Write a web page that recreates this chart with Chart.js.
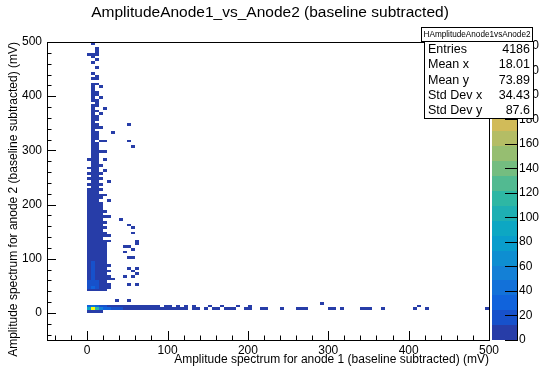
<!DOCTYPE html>
<html>
<head>
<meta charset="utf-8">
<script src="https://cdn.jsdelivr.net/npm/chart.js@4/dist/chart.umd.min.js"></script>
<style>
  html, body { margin: 0; padding: 0; background: #fff; }
  canvas { display: block; }
</style>
</head>
<body>
<canvas id="c" width="540" height="367"></canvas>
<script>
const FONT = "'Liberation Sans', Arial, Helvetica, sans-serif";

// histogram definition (ROOT TH2, 5 mV bins on both axes)
const histTitle = 'AmplitudeAnode1_vs_Anode2 (baseline subtracted)';
const histName = 'HAmplitudeAnode1vsAnode2';
const xTitle = 'Amplitude spectrum for anode 1 (baseline subtracted) (mV)';
const yTitle = 'Amplitude spectrum for anode 2 (baseline subtracted) (mV)';
const xMin = -50, xMax = 500, yMin = -50, yMax = 500;
const binW = 5;

const xMajor = [0, 100, 200, 300, 400, 500];
const yMajor = [0, 100, 200, 300, 400, 500];
const zLabels = [0, 20, 40, 60, 80, 100, 120, 140, 160, 180, 200, 220, 240];

const statsLabels = ['Entries', 'Mean x', 'Mean y', 'Std Dev x', 'Std Dev y'];
const statsValues = ['4186', '18.01', '73.89', '34.43', '87.6'];

// vertical column near anode1 ~ 0: x bin lower edges, y bin lower edges, counts
const colX = [0, 5, 10, 15, 20, 25];
const colY = [495, 490, 485, 480, 475, 470, 465, 460, 455, 450, 445, 440, 435, 430, 425, 420,
  415, 410, 405, 400, 395, 390, 385, 380, 375, 370, 365, 360, 355, 350, 345, 340, 335, 330,
  325, 320, 315, 310, 305, 300, 295, 290, 285, 280, 275, 270, 265, 260, 255, 250, 245, 240,
  235, 230, 225, 220, 215, 210, 205, 200, 195, 190, 185, 180, 175, 170, 165, 160, 155, 150,
  145, 140, 135, 130, 125, 120, 115, 110, 105, 100, 95, 90, 85, 80, 75, 70, 65, 60, 55, 50, 45, 40];
const colCounts = [
  [0, 1, 0, 0, 0, 0], [0, 0, 0, 0, 0, 0], [0, 0, 1, 0, 0, 0], [0, 0, 1, 0, 0, 0],
  [1, 1, 1, 0, 0, 0], [0, 1, 0, 0, 0, 0], [0, 0, 1, 0, 0, 0], [0, 1, 0, 0, 0, 0],
  [0, 0, 0, 0, 0, 0], [0, 0, 1, 0, 0, 0], [0, 0, 0, 0, 0, 0], [0, 1, 0, 0, 0, 0],
  [0, 0, 1, 0, 0, 0], [0, 1, 1, 0, 0, 0], [0, 0, 0, 0, 0, 0], [0, 1, 1, 0, 0, 0],
  [0, 1, 0, 1, 0, 0], [0, 1, 0, 0, 0, 0], [0, 1, 1, 0, 0, 0], [0, 1, 1, 0, 0, 0],
  [0, 1, 0, 1, 0, 0], [0, 1, 1, 0, 0, 0], [0, 0, 1, 0, 0, 0], [0, 1, 1, 0, 0, 0],
  [0, 1, 0, 0, 1, 0], [0, 1, 1, 0, 0, 0], [0, 1, 0, 1, 0, 0], [0, 1, 1, 0, 0, 0],
  [0, 1, 1, 0, 0, 0], [0, 1, 0, 0, 0, 0], [0, 1, 1, 0, 0, 0], [0, 1, 1, 1, 0, 0],
  [0, 1, 0, 0, 0, 0], [0, 2, 1, 0, 0, 0], [0, 1, 1, 0, 0, 0], [0, 1, 1, 0, 0, 0],
  [0, 1, 0, 1, 0, 0], [0, 2, 1, 0, 0, 0], [0, 1, 1, 0, 0, 0], [0, 2, 1, 0, 0, 0],
  [0, 1, 1, 1, 0, 0], [0, 2, 1, 0, 0, 0], [0, 1, 2, 0, 0, 0], [1, 2, 1, 0, 0, 0],
  [0, 2, 1, 0, 0, 0], [0, 1, 2, 1, 0, 0], [1, 2, 1, 0, 0, 0], [0, 2, 1, 0, 0, 0],
  [1, 2, 2, 1, 0, 0], [0, 2, 1, 0, 0, 0], [1, 2, 2, 1, 0, 0], [0, 2, 1, 0, 0, 0],
  [1, 3, 2, 1, 0, 0], [0, 2, 2, 0, 0, 0], [1, 3, 2, 1, 0, 0], [1, 2, 2, 0, 0, 0],
  [1, 3, 2, 1, 0, 0], [1, 3, 2, 1, 0, 0], [1, 3, 2, 0, 0, 0], [1, 3, 2, 1, 0, 0],
  [1, 4, 3, 1, 0, 0], [1, 3, 2, 1, 0, 0], [1, 4, 3, 1, 1, 0], [1, 4, 3, 1, 0, 0],
  [1, 4, 3, 2, 1, 0], [2, 5, 3, 1, 0, 0], [1, 5, 4, 2, 1, 0], [2, 5, 3, 1, 0, 0],
  [2, 5, 4, 2, 1, 0], [2, 6, 4, 2, 0, 0], [2, 6, 4, 2, 1, 0], [2, 6, 5, 2, 1, 0],
  [3, 7, 5, 2, 0, 0], [3, 7, 5, 3, 1, 0], [3, 8, 6, 2, 1, 0], [4, 8, 6, 3, 1, 0],
  [4, 9, 6, 3, 1, 0], [5, 10, 7, 3, 1, 0], [5, 11, 7, 3, 2, 0], [6, 12, 8, 4, 1, 0],
  [6, 12, 8, 4, 2, 0], [7, 13, 9, 4, 2, 0], [8, 14, 9, 4, 2, 1], [8, 15, 10, 5, 2, 0],
  [9, 16, 10, 5, 3, 1], [10, 17, 11, 5, 2, 0], [11, 18, 12, 6, 3, 1], [12, 20, 12, 6, 3, 1],
  [13, 22, 13, 6, 3, 0], [14, 24, 14, 7, 3, 1], [15, 26, 15, 7, 4, 1], [8, 12, 7, 3, 1, 0]
];

// horizontal band near anode2 ~ 0 (x bin lower edges and counts per y row)
const bandY0X = [0, 5, 10, 15];
const bandY0C = [4, 10, 5, 2];
const bandY5X = [0, 5, 10, 15, 20, 25, 30, 35, 40, 45, 50, 55, 60, 65, 70, 75, 80, 85, 90, 95,
  100, 105, 110, 115, 120, 130, 135, 145, 155, 160, 170, 175, 180, 195, 200, 215,
  220, 240, 260, 265, 270, 300, 305, 315, 340, 345, 350, 365, 405, 420, 495];
const bandY5C = [95, 243, 115, 50, 32, 26, 22, 18, 14, 11, 9, 8, 7, 6, 6, 5, 5, 4, 4, 3,
  3, 2, 2, 1, 2, 1, 1, 1, 1, 1, 1, 1, 1, 1, 1, 1,
  1, 1, 1, 1, 1, 1, 1, 1, 1, 1, 1, 1, 1, 1, 1];
const bandY10X = [0, 5, 10, 15, 20, 25, 30, 35, 40, 45, 50, 55, 60, 65, 70, 75, 80, 85, 95,
  100, 110, 120, 130, 150, 165, 185, 200, 410];
const bandY10C = [28, 40, 30, 20, 15, 12, 10, 8, 7, 6, 5, 4, 4, 3, 3, 2, 2, 1, 1,
  1, 1, 1, 1, 1, 1, 1, 1, 1];

// isolated single entries (x, y in mV)
const spotX = [50.5, 30.6, 23.2, 54.3, 58, 24.4, 23.2, 24.4, 25.7, 23.2, 27, 27, 44.3, 54.3,
  58, 58, 27, 61.7, 27, 48, 54.3, 61.7, 48, 56.8, 51.8, 55.5, 50.5, 61.7, 56.8, 28.1, 30.6,
  48, 58, 64.2, 51.8, 64.2, 28.1, 38.1, 54.3, 292];
const spotY = [346.8, 330, 319, 319, 308, 295, 280, 262, 243.5, 217.6, 206.5, 178.9, 173, 162,
  155, 146, 143, 134.6, 131, 121.6, 121.6, 125, 114, 116, 101, 103, 82.9, 82.9, 75.5, 79, 64.4,
  68, 66, 71.8, 53.4, 51.5, 49.7, 23.8, 20.1, 17];

// fill the 2D histogram
const bins = new Map();
function fill(x, y, w) {
  const ix = Math.floor((x - xMin) / binW);
  const iy = Math.floor((y - yMin) / binW);
  const key = ix + ',' + iy;
  bins.set(key, (bins.get(key) || 0) + w);
}
colY.forEach((y, i) => colX.forEach((x, j) => {
  if (colCounts[i][j] > 0) fill(x + binW / 2, y + binW / 2, colCounts[i][j]);
}));
bandY0X.forEach((x, i) => fill(x + binW / 2, 0 + binW / 2, bandY0C[i]));
bandY5X.forEach((x, i) => fill(x + binW / 2, 5 + binW / 2, bandY5C[i]));
bandY10X.forEach((x, i) => fill(x + binW / 2, 10 + binW / 2, bandY10C[i]));
spotX.forEach((x, i) => fill(x, spotY[i], 1));

const zMax = Math.max(...bins.values());
const nLevels = 20;

// ROOT kBird palette
const birdStops = [0, 0.125, 0.25, 0.375, 0.5, 0.625, 0.75, 0.875, 1];
const birdR = [0.2082, 0.0592, 0.0780, 0.0232, 0.1802, 0.5301, 0.8186, 0.9956, 0.9764];
const birdG = [0.1664, 0.3599, 0.5041, 0.6419, 0.7178, 0.7492, 0.7328, 0.7862, 0.9832];
const birdB = [0.5293, 0.8684, 0.8385, 0.7914, 0.6425, 0.4662, 0.3499, 0.1968, 0.0539];

function birdColor(f) {
  let k = 0;
  while (k < birdStops.length - 2 && f > birdStops[k + 1]) k++;
  const t = (f - birdStops[k]) / (birdStops[k + 1] - birdStops[k]);
  const c = (arr) => Math.round(255 * (arr[k] + (arr[k + 1] - arr[k]) * t));
  return `rgb(${c(birdR)},${c(birdG)},${c(birdB)})`;
}

function levelColor(level) {
  const p = Math.floor((level + 0.99) * 255 / nLevels);
  return birdColor(Math.min(p, 254) / 254);
}

const histPlugin = {
  id: 'th2colz',
  beforeDatasetsDraw(chart) {
    const { ctx, chartArea: a, scales } = chart;
    ctx.save();
    ctx.beginPath();
    ctx.rect(a.left, a.top, a.right - a.left, a.bottom - a.top);
    ctx.clip();
    for (const [key, count] of bins) {
      const [ix, iy] = key.split(',').map(Number);
      const x0 = Math.round(scales.x.getPixelForValue(xMin + ix * binW));
      const x1 = Math.round(scales.x.getPixelForValue(xMin + (ix + 1) * binW));
      const y0 = Math.round(scales.y.getPixelForValue(yMin + iy * binW));
      const y1 = Math.round(scales.y.getPixelForValue(yMin + (iy + 1) * binW));
      const level = Math.min(nLevels - 1, Math.floor(0.01 + count / zMax * nLevels));
      ctx.fillStyle = levelColor(level);
      ctx.fillRect(x0, y1, x1 - x0, y0 - y1);
    }
    ctx.restore();
  },
  afterDraw(chart) {
    const { ctx, chartArea: a, scales } = chart;
    ctx.save();

    // frame
    ctx.strokeStyle = '#000';
    ctx.lineWidth = 1;
    ctx.strokeRect(a.left + 0.5, a.top + 0.5, a.right - a.left, a.bottom - a.top);

    // inner tick marks, majors every 100, minors every 20
    ctx.beginPath();
    for (let v = -40; v <= 500; v += 20) {
      const len = v % 100 === 0 ? 9 : 4.5;
      const px = Math.round(scales.x.getPixelForValue(v)) + 0.5;
      ctx.moveTo(px, a.bottom);
      ctx.lineTo(px, a.bottom - len);
      const py = Math.round(scales.y.getPixelForValue(v)) + 0.5;
      ctx.moveTo(a.left, py);
      ctx.lineTo(a.left + len, py);
    }
    ctx.stroke();

    // colour palette
    const z = scales.z;
    const pl = a.right + 3, pr = a.right + 28;
    for (let i = 0; i < nLevels; i++) {
      const yb = Math.round(z.getPixelForValue(i * zMax / nLevels));
      const yt = Math.round(z.getPixelForValue((i + 1) * zMax / nLevels));
      ctx.fillStyle = levelColor(i);
      ctx.fillRect(pl, yt, pr - pl, yb - yt);
    }
    ctx.beginPath();
    ctx.moveTo(pr + 0.5, a.top);
    ctx.lineTo(pr + 0.5, a.bottom + 1);
    zLabels.forEach((v) => {
      const py = Math.round(z.getPixelForValue(v)) + 0.5;
      ctx.moveTo(pr - 12, py);
      ctx.lineTo(pr + 0.5, py);
    });
    ctx.stroke();

    // stats box
    const bx = 424, by = 41, bw = 109, bh = 77;
    ctx.fillStyle = '#fff';
    ctx.fillRect(bx, by, bw, bh);
    ctx.strokeRect(bx + 0.5, by + 0.5, bw, bh);
    ctx.fillRect(421, 27, 111, 14);
    ctx.strokeRect(421.5, 27.5, 111, 14);
    ctx.fillStyle = '#000';
    ctx.textBaseline = 'middle';
    ctx.font = `8.2px ${FONT}`;
    ctx.textAlign = 'center';
    ctx.fillText(histName, 477, 34.5);
    ctx.font = `12.5px ${FONT}`;
    statsLabels.forEach((lab, i) => {
      const ty = 49.5 + i * 15.3;
      ctx.textAlign = 'left';
      ctx.fillText(lab, bx + 4, ty);
      ctx.textAlign = 'right';
      ctx.fillText(statsValues[i], bx + bw - 3, ty);
    });
    ctx.restore();
  }
};

const axisFont = { family: FONT, size: 12, weight: 'normal' };

new Chart(document.getElementById('c'), {
  type: 'scatter',
  data: { datasets: [{ data: [], pointRadius: 0 }] },
  options: {
    responsive: false,
    animation: false,
    devicePixelRatio: 1,
    layout: { padding: 0 },
    plugins: {
      legend: { display: false },
      tooltip: { enabled: false },
      title: {
        display: true,
        text: histTitle,
        color: '#000',
        font: { family: FONT, size: 15.5, weight: 'normal' },
        padding: { top: 3.7, bottom: 19.7 },
      },
    },
    scales: {
      x: {
        type: 'linear',
        min: xMin,
        max: xMax,
        afterBuildTicks: (s) => { s.ticks = xMajor.map((v) => ({ value: v })); },
        afterFit: (s) => { s.height = 27; },
        grid: { display: false, drawTicks: false },
        border: { display: false },
        ticks: { color: '#000', font: axisFont, padding: 3, maxRotation: 0, autoSkip: false },
        title: { display: true, text: xTitle, align: 'end', color: '#000', font: axisFont, padding: 0 },
      },
      y: {
        type: 'linear',
        min: yMin,
        max: yMax,
        afterBuildTicks: (s) => { s.ticks = yMajor.map((v) => ({ value: v })); },
        afterFit: (s) => { s.width = 47; },
        grid: { display: false, drawTicks: false },
        border: { display: false },
        ticks: { color: '#000', font: axisFont, padding: 5, autoSkip: false },
        title: { display: true, text: yTitle, align: 'end', color: '#000', font: axisFont, padding: { top: 6, bottom: 0 } },
      },
      z: {
        type: 'linear',
        position: 'right',
        min: 0,
        max: zMax,
        afterBuildTicks: (s) => { s.ticks = zLabels.map((v) => ({ value: v })); },
        afterFit: (s) => { s.width = 51; },
        grid: { display: true, drawOnChartArea: false, drawTicks: true, tickLength: 28, color: 'rgba(0,0,0,0)' },
        border: { display: false },
        ticks: { color: '#000', font: axisFont, padding: 2, autoSkip: false },
      },
    },
  },
  plugins: [histPlugin],
});
</script>
</body>
</html>
